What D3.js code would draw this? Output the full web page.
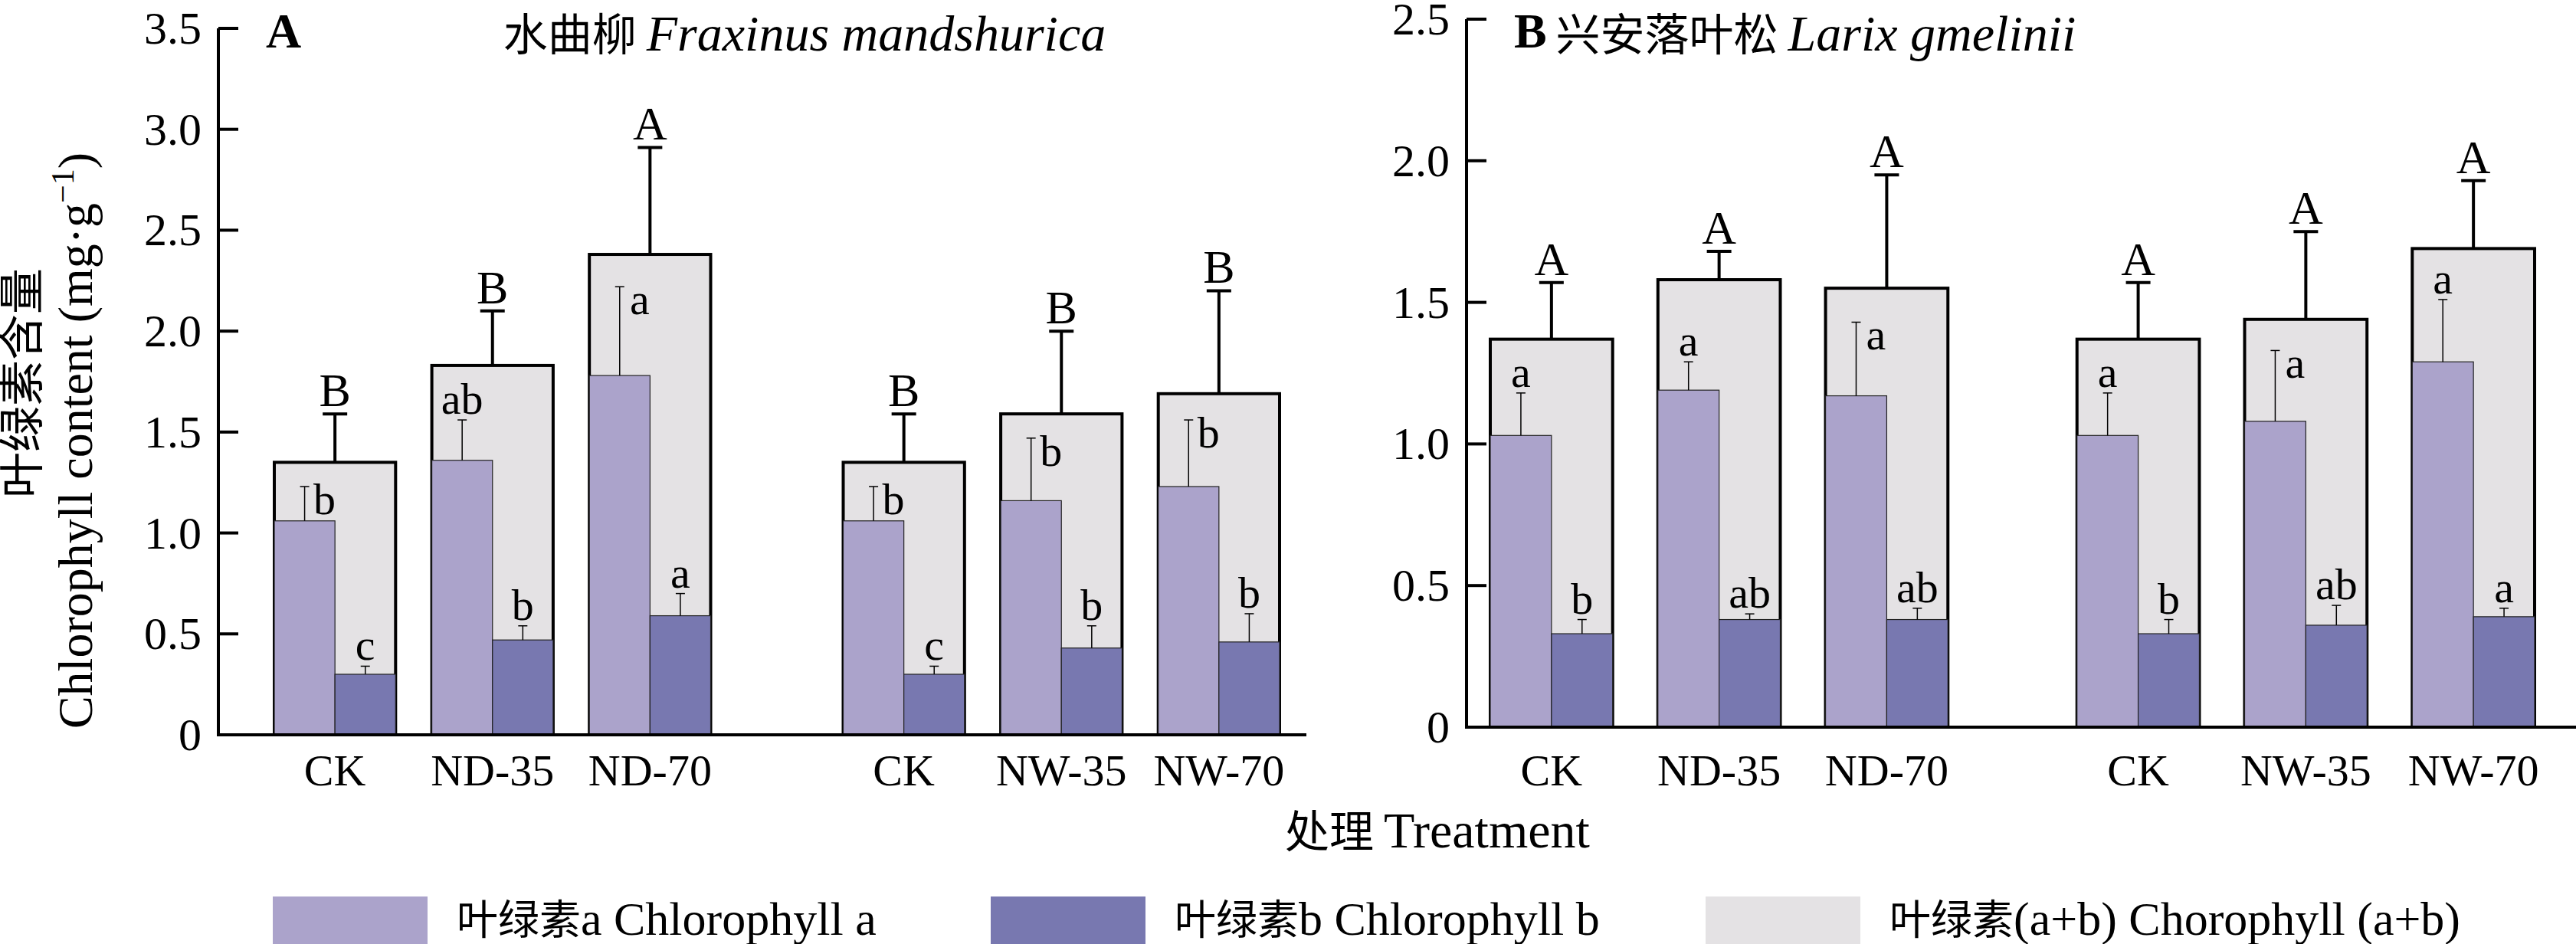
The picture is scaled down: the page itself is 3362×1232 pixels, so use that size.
<!DOCTYPE html>
<html><head><meta charset="utf-8">
<script src="https://cdn.jsdelivr.net/npm/d3@7"></script>
<style>body{margin:0;background:#fff}text{font-family:"Liberation Serif","Noto Sans CJK SC",serif}</style>
</head><body>
<svg id="c" width="3362" height="1232"></svg>
<script>
const groups = ["ND","NW"];
const treatments = [["CK","ND-35","ND-70"],["CK","NW-35","NW-70"]];
const tickLabelsA = ["0","0.5","1.0","1.5","2.0","2.5","3.0","3.5"];
const tickLabelsB = ["0","0.5","1.0","1.5","2.0","2.5"];
// Panel A: Fraxinus mandshurica
const A_total = [1.35,1.83,2.38,1.35,1.59,1.69];
const A_totalErr = [1.59,2.10,2.91,1.59,2.00,2.20];
const A_a = [1.06,1.36,1.78,1.06,1.16,1.23];
const A_aErr = [1.23,1.56,2.22,1.23,1.47,1.56];
const A_b = [0.30,0.47,0.59,0.30,0.43,0.46];
const A_bErr = [0.34,0.54,0.70,0.34,0.54,0.60];
const A_totLet = ["B","B","A","B","B","B"];
const A_aLet = ["b","ab","a","b","b","b"];
const A_bLet = ["c","b","a","c","b","b"];
// Panel B: Larix gmelinii
const B_total = [1.37,1.58,1.55,1.37,1.44,1.69];
const B_totalErr = [1.57,1.68,1.95,1.57,1.75,1.93];
const B_a = [1.03,1.19,1.17,1.03,1.08,1.29];
const B_aErr = [1.18,1.29,1.43,1.18,1.33,1.51];
const B_b = [0.33,0.38,0.38,0.33,0.36,0.39];
const B_bErr = [0.38,0.40,0.42,0.38,0.43,0.42];
const B_totLet = ["A","A","A","A","A","A"];
const B_aLet = ["a","a","a","a","a","a"];
const B_bLet = ["b","ab","ab","b","ab","a"];

const cA="#aba3cb", cB="#7878b0", cT="#e4e2e4";
const svg = d3.select("#c");

function panel(o){
  const g = svg.append("g");
  const y = d3.scaleLinear().domain([0,o.max]).range([o.y0,o.y1]);
  const outer = d3.scaleBand().domain(groups).range(o.xr).paddingInner(o.pOut);
  const inner = d3.scaleBand().domain([0,1,2]).range([0,outer.bandwidth()]).paddingInner(o.pIn);
  const bw = inner.bandwidth();
  const rows = [];
  groups.forEach((gr,gi)=>treatments[gi].forEach((t,ti)=>{
    const i = gi*3+ti;
    rows.push({i, t, x: outer(gr)+inner(ti)});
  }));
  rows.forEach(r=>{
    const i=r.i, x=r.x;
    g.append("rect").attr("x",x).attr("y",y(o.total[i])).attr("width",bw).attr("height",y(0)-y(o.total[i]))
      .attr("fill",cT).attr("stroke","#000").attr("stroke-width",4);
    g.append("rect").attr("x",x).attr("y",y(o.a[i])).attr("width",bw/2).attr("height",y(0)-y(o.a[i]))
      .attr("fill",cA).attr("stroke","#222").attr("stroke-width",1.2);
    g.append("rect").attr("x",x+bw/2).attr("y",y(o.b[i])).attr("width",bw/2).attr("height",y(0)-y(o.b[i]))
      .attr("fill",cB).attr("stroke","#222").attr("stroke-width",1.2);
    const cx=x+bw/2;
    g.append("line").attr("x1",cx).attr("x2",cx).attr("y1",y(o.total[i])).attr("y2",y(o.totalErr[i])).attr("stroke","#000").attr("stroke-width",4);
    g.append("line").attr("x1",cx-16).attr("x2",cx+16).attr("y1",y(o.totalErr[i])).attr("y2",y(o.totalErr[i])).attr("stroke","#000").attr("stroke-width",4);
    g.append("text").attr("x",cx).attr("y",y(o.totalErr[i])-10).attr("text-anchor","middle").attr("font-size",62).text(o.totLet[i]);
    const ax=x+bw/4, bx=x+3*bw/4;
    [[ax,o.a[i],o.aErr[i],o.aLet[i]],[bx,o.b[i],o.bErr[i],o.bLet[i]]].forEach(([px,v,e,l],k)=>{
      g.append("line").attr("x1",px).attr("x2",px).attr("y1",y(v)).attr("y2",y(e)).attr("stroke","#000").attr("stroke-width",1.5);
      g.append("line").attr("x1",px-6).attr("x2",px+6).attr("y1",y(e)).attr("y2",y(e)).attr("stroke","#000").attr("stroke-width",1.5);
      const crowd = k===0 && (y(o.total[i]) > y(e)-55);
      g.append("text").attr("x",crowd?px+26:px).attr("y",crowd?y(e)+36:y(e)-8).attr("text-anchor","middle").attr("font-size",58).text(l);
    });
    g.append("text").attr("x",cx).attr("y",1025).attr("text-anchor","middle").attr("font-size",58).text(r.t);
  });
  g.append("line").attr("x1",o.ax).attr("x2",o.ax).attr("y1",o.y1).attr("y2",y(0)).attr("stroke","#000").attr("stroke-width",4);
  g.append("line").attr("x1",o.ax-2).attr("x2",o.axEnd).attr("y1",y(0)).attr("y2",y(0)).attr("stroke","#000").attr("stroke-width",4);
  o.ticks.forEach((lab,k)=>{
    const v=k*0.5, ty=y(v);
    if(k>0) g.append("line").attr("x1",o.ax).attr("x2",o.ax+26).attr("y1",ty).attr("y2",ty).attr("stroke","#000").attr("stroke-width",4);
    g.append("text").attr("x",o.ax-22).attr("y",ty+20).attr("text-anchor","end").attr("font-size",60).text(lab);
  });
  g.append("text").attr("x",o.ax+62).attr("y",62).attr("font-size",64).attr("font-weight","bold").text(o.letter);
  const tt=g.append("text").attr("x",o.tx).attr("y",66).attr("text-anchor","middle").attr("font-size",66);
  tt.append("tspan").attr("font-family","Noto Sans CJK SC").attr("font-size",58).text(o.cn+" ");
  tt.append("tspan").attr("font-style","italic").text(o.latin);
}
panel({max:3.5,y0:959,y1:37,xr:[358,1670],pOut:0.233,pIn:0.23,ax:285,axEnd:1705,ticks:tickLabelsA,
  total:A_total,totalErr:A_totalErr,a:A_a,aErr:A_aErr,b:A_b,bErr:A_bErr,totLet:A_totLet,aLet:A_aLet,bLet:A_bLet,
  letter:"A",tx:1050,cn:"水曲柳",latin:"Fraxinus mandshurica"});
panel({max:2.5,y0:949,y1:25,xr:[1945,3308],pOut:0.22,pIn:0.27,ax:1914,axEnd:3362,ticks:tickLabelsB,
  total:B_total,totalErr:B_totalErr,a:B_a,aErr:B_aErr,b:B_b,bErr:B_bErr,totLet:B_totLet,aLet:B_aLet,bLet:B_bLet,
  letter:"B",tx:2370,cn:"兴安落叶松",latin:"Larix gmelinii"});

svg.append("text").attr("transform","translate(50,500) rotate(-90)").attr("text-anchor","middle")
  .attr("font-size",60).attr("font-family","Noto Sans CJK SC").text("叶绿素含量");
const yt=svg.append("text").attr("transform","translate(120,575) rotate(-90)").attr("text-anchor","middle").attr("font-size",64);
yt.append("tspan").text("Chlorophyll content (mg·g");
yt.append("tspan").attr("dy",-24).attr("font-size",42).text("−1");
yt.append("tspan").attr("dy",24).text(")");
const xt=svg.append("text").attr("x",1876).attr("y",1106).attr("text-anchor","middle").attr("font-size",66);
xt.append("tspan").attr("font-family","Noto Sans CJK SC").attr("font-size",58).text("处理 ");
xt.append("tspan").text("Treatment");
const legItems = [["叶绿素","a Chlorophyll a",cA,356],["叶绿素","b Chlorophyll b",cB,1293],["叶绿素","(a+b) Chorophyll (a+b)",cT,2226]];
legItems.forEach(([cn,en,col,x])=>{
  svg.append("rect").attr("x",x).attr("y",1170).attr("width",202).attr("height",62).attr("fill",col);
  const t=svg.append("text").attr("x",x+240).attr("y",1220).attr("font-size",62);
  t.append("tspan").attr("font-family","Noto Sans CJK SC").attr("font-size",54).text(cn);
  t.append("tspan").text(en);
});
</script>
</body></html>
